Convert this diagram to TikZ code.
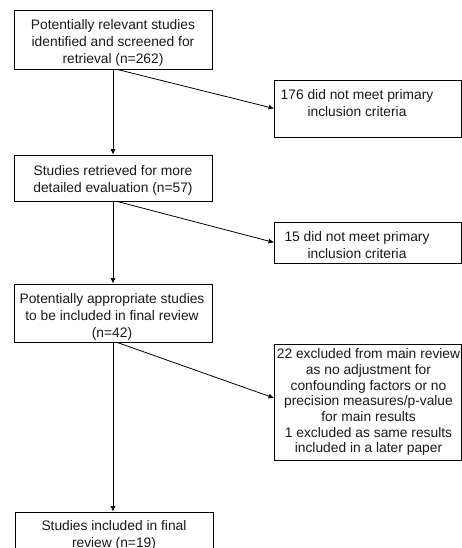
\documentclass[tikz,border=0pt]{standalone}
\usepackage{fontspec}
\setmainfont{Liberation Sans}
\usetikzlibrary{arrows.meta,calc}
\begin{document}
\begin{tikzpicture}[x=1pt,y=-1pt,
  box/.style={draw=black,line width=0.8pt,inner sep=0pt},
  txt/.style={inner sep=0pt,align=center,anchor=north,text=black!90,font=\fontsize{13.8}{17}\selectfont},
  txtb/.style={txt,font=\fontsize{13.8}{15.7}\selectfont},
  arr/.style={-{Latex[length=5.5pt,width=5pt]},line width=0.8pt}]
\clip (0,0) rectangle (462,548);
% boxes
\node[box,minimum width=198pt,minimum height=59pt] (b1) at (113,39.5) {};
\node[box,minimum width=187pt,minimum height=57pt] (b2) at (368,108.5) {};
\node[box,minimum width=198pt,minimum height=46pt] (b3) at (113,178) {};
\node[box,minimum width=187pt,minimum height=41pt] (b4) at (368,242.5) {};
\node[box,minimum width=198pt,minimum height=58pt] (b5) at (113,313) {};
\node[box,minimum width=187pt,minimum height=116pt] (b6) at (368,402) {};
\node[box,minimum width=197.5pt,minimum height=58pt] (b7) at (114.25,541) {};
% texts
\node[txt] (t1) at (113,19.5) {Potentially relevant studies\\identified and screened for\\retrieval (n=262)};
\node[txt] (t2) at (357,89.5) {176 did not meet primary\\inclusion criteria};
\node[txt] (t3) at (113,165.5) {Studies retrieved for more\\detailed evaluation (n=57)};
\node[txt] (t4) at (357,231.5) {15 did not meet primary\\inclusion criteria};
\node[txt] (t5) at (112,293.5) {Potentially appropriate studies\\to be included in final review\\(n=42)};
\node[txtb] (t6) at (368.5,348.5) {22 excluded from main review\\as no adjustment for\\confounding factors or no\\precision measures/p-value\\for main results\\1 excluded as same results\\included in a later paper};
\node[txt] (t7) at (114,520) {Studies included in final\\review (n=19)};
% connectors
\draw[arr] (b1.south) -- (b3.north);
\draw[arr] ($(b1.south)+(4,0)$) -- (b2.west);
\draw[arr] (b3.south) -- (b5.north);
\draw[arr] ($(b3.south)+(4,0)$) -- (b4.west);
\draw[arr] (b5.south) -- (b5.south |- b7.north);
\draw[arr] ($(b5.south)+(4,0)$) -- ($(b6.west)+(0,-4)$);
\end{tikzpicture}
\end{document}
